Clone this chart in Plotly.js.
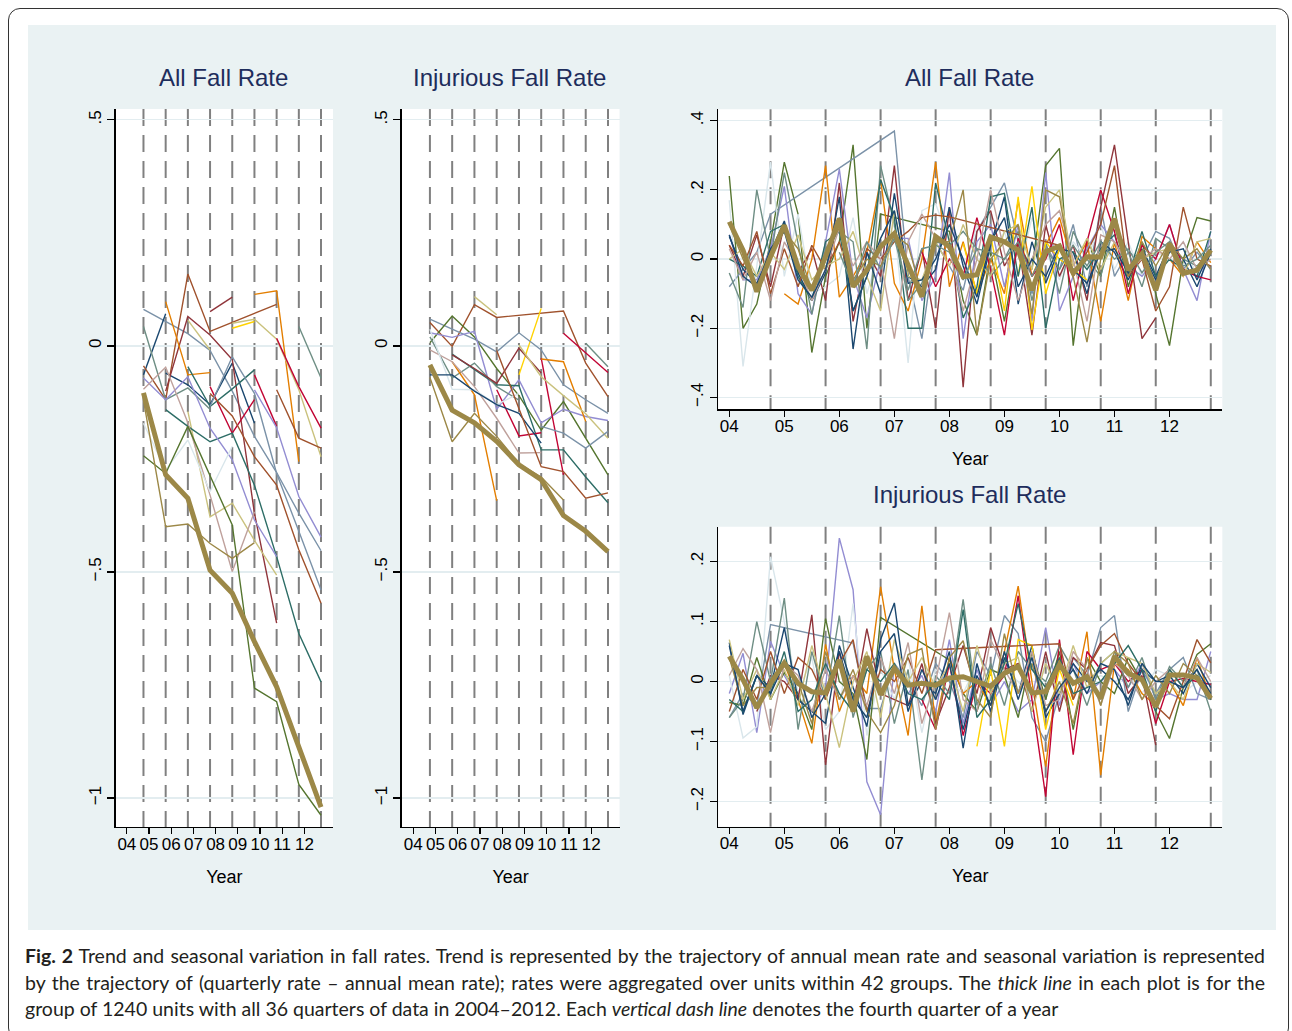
<!DOCTYPE html>
<html>
<head>
<meta charset="utf-8">
<script src="https://cdn.plot.ly/plotly-3.0.1.min.js"></script>
<style>
  html, body { margin: 0; padding: 0; background: #ffffff; }
  #frame { position: absolute; left: 8px; top: 8px; width: 1281px; height: 1032px; border: 1.5px solid #333; border-radius: 12px; box-sizing: border-box; }
  #chart { position: absolute; left: 28px; top: 25px; width: 1248px; height: 905px; }
  #caption { position: absolute; left: 25px; top: 943px; width: 1240px; font-family: Lato, "Liberation Sans Narrow", sans-serif; font-size: 19.5px; line-height: 26.5px; color: #231f20; }
  .j { text-align: justify; text-align-last: justify; white-space: nowrap; }
  .l { white-space: nowrap; }
</style>
</head>
<body>
<div id="frame"></div>
<div id="chart"></div>
<div id="caption">
  <div class="j"><b>Fig. 2</b> Trend and seasonal variation in fall rates. Trend is represented by the trajectory of annual mean rate and seasonal variation is represented</div>
  <div class="j">by the trajectory of (quarterly rate – annual mean rate); rates were aggregated over units within 42 groups. The <i>thick line</i> in each plot is for the</div>
  <div class="l">group of 1240 units with all 36 quarters of data in 2004–2012. Each <i>vertical dash line</i> denotes the fourth quarter of a year</div>
</div>
<script>
// ---------- axes / categories ----------
const yearsQ4 = [2004.75, 2005.75, 2006.75, 2007.75, 2008.75, 2009.75, 2010.75, 2011.75, 2012.75];
const quarters = [2004, 2004.25, 2004.5, 2004.75, 2005, 2005.25, 2005.5, 2005.75, 2006, 2006.25, 2006.5, 2006.75,
  2007, 2007.25, 2007.5, 2007.75, 2008, 2008.25, 2008.5, 2008.75, 2009, 2009.25, 2009.5, 2009.75,
  2010, 2010.25, 2010.5, 2010.75, 2011, 2011.25, 2011.5, 2011.75, 2012, 2012.25, 2012.5, 2012.75];
const dashYears = [2004.75, 2005.75, 2006.75, 2007.75, 2008.75, 2009.75, 2010.75, 2011.75, 2012.75];
const yearTickVals = [2004, 2005, 2006, 2007, 2008, 2009, 2010, 2011, 2012];
const yearTickText = ['04', '05', '06', '07', '08', '09', '10', '11', '12'];
const trendTickVals = [-1, -0.5, 0, 0.5];
const trendTickText = ['\u22121', '\u2212.5', '0', '.5'];
const allSeasTickVals = [-0.4, -0.2, 0, 0.2, 0.4];
const allSeasTickText = ['\u2212.4', '\u2212.2', '0', '.2', '.4'];
const injSeasTickVals = [-0.2, -0.1, 0, 0.1, 0.2];
const injSeasTickText = ['\u2212.2', '\u2212.1', '0', '.1', '.2'];
const panelTitles = ['All Fall Rate', 'Injurious Fall Rate', 'All Fall Rate', 'Injurious Fall Rate'];
const xTitle = 'Year';

// ---------- colours (Stata s2color) ----------
const cNavy = '#1a476f', cMaroon = '#90353b', cForest = '#55752f', cOrange = '#e37e00', cTeal = '#6e8e84',
      cCran = '#c10534', cLav = '#938dd2', cKhaki = '#cac27e', cSienna = '#a0522d', cEmid = '#7b92a8',
      cEmer = '#2d6d66', cBrown = '#9c8847', cErose = '#bfa19c', cGold = '#ffd200', cBgray = '#d9e6eb';

// ---------- All Fall Rate: trend (annual mean, at Q4) ----------
const aT01 = [0.081, 0.054, 0.027, -0.010, -0.10, -0.20, -0.28, -0.37, -0.453];
const aT02 = [-0.064, 0.071, null, null, null, null, null, null, null];
const aT03 = [null, -0.060, -0.086, -0.13, -0.038, -0.171, null, null, null];
const aT04 = [-0.044, -0.119, 0.159, 0.032, null, null, 0.092, null, null];
const aT05 = [null, null, null, 0.076, 0.108, null, null, null, null];
const aT06 = [null, -0.10, 0.065, 0.024, -0.03, -0.37, -0.613, null, null];
const aT07 = [null, 0.098, -0.064, -0.059, null, null, null, null, null];
const aT08 = [null, null, null, null, null, 0.114, 0.122, -0.256, null];
const aT09 = [null, null, 0.057, -0.009, null, null, null, null, null];
const aT10 = [null, null, null, null, 0.05, 0.059, 0.015, -0.097, -0.245];
const aT11 = [null, null, -0.145, -0.378, -0.348, -0.43, -0.507, null, null];
const aT12 = [null, null, null, null, 0.039, 0.054, null, null, null];
const aT13 = [null, null, null, -0.09, -0.193, -0.119, null, null, null];
const aT14 = [null, null, null, null, null, -0.064, -0.178, null, null];
const aT15 = [null, null, null, null, null, null, 0.017, -0.09, -0.182];
const aT16 = [0.043, -0.119, -0.093, -0.14, null, null, null, null, null];
const aT17 = [null, null, null, null, null, null, null, 0.043, -0.071];
const aT18 = [null, -0.141, -0.178, -0.212, -0.193, -0.308, -0.466, -0.636, -0.743];
const aT19 = [null, null, -0.046, -0.134, -0.095, -0.053, null, null, null];
const aT20 = [-0.071, -0.119, -0.068, -0.182, -0.252, -0.385, -0.466, null, null];
const aT21 = [null, null, null, null, null, -0.097, -0.181, -0.333, -0.423];
const aT22 = [-0.096, -0.047, -0.17, -0.33, -0.499, -0.367, null, null, null];
const aT23 = [-0.171, -0.275, -0.208, -0.322, -0.222, null, null, null, null];
const aT24 = [-0.243, -0.282, -0.178, -0.289, -0.396, -0.757, -0.787, -0.97, -1.038];
const aT25 = [-0.12, -0.40, -0.394, -0.437, -0.47, -0.435, null, null, null];
const aT26 = [null, null, null, null, null, null, -0.097, -0.204, -0.226];
const aT27 = [null, null, null, -0.105, -0.155, -0.245, -0.308, -0.451, -0.569];
const aT28 = [null, null, null, -0.134, -0.024, -0.105, -0.282, -0.41, -0.54];
const aThick = [-0.104, -0.285, -0.337, -0.496, -0.547, -0.654, -0.754, -0.886, -1.02];
const allTrendSeries = [aT01, aT02, aT03, aT04, aT05, aT06, aT07, aT08, aT09, aT10, aT11, aT12, aT13, aT14,
  aT15, aT16, aT17, aT18, aT19, aT20, aT21, aT22, aT23, aT24, aT25, aT26, aT27, aT28];
const allTrendColors = [cEmid, cNavy, cNavy, cSienna, cMaroon, cMaroon, cOrange, cOrange, cKhaki, cKhaki, cKhaki,
  cGold, cCran, cCran, cCran, cTeal, cTeal, cEmer, cEmer, cLav, cLav, cErose, cBgray, cForest, cBrown, cSienna, cSienna, cEmid];

// ---------- Injurious Fall Rate: trend ----------
const iT01 = [0.052, -0.001, 0.091, 0.063, null, null, 0.077, -0.038, -0.112];
const iT02 = [null, null, 0.109, 0.069, null, null, null, null, null];
const iT03 = [null, null, null, null, -0.064, 0.083, null, null, null];
const iT04 = [0.059, 0.037, 0.015, -0.013, 0.029, -0.009, -0.086, -0.119, -0.149];
const iT05 = [0.007, 0.066, 0.02, -0.05, -0.11, -0.186, -0.123, -0.205, -0.285];
const iT06 = [0.029, 0.019, 0.032, -0.14, -0.075, -0.17, -0.14, -0.156, -0.165];
const iT07 = [null, -0.018, -0.053, -0.086, -0.088, -0.23, -0.23, -0.29, -0.347];
const iT08 = [0.02, -0.071, -0.038, -0.09, -0.12, null, null, null, null];
const iT09 = [null, null, null, null, null, null, null, 0.006, -0.046];
const iT10 = [null, null, null, null, null, null, 0.028, -0.015, -0.059];
const iT11 = [null, null, null, -0.097, -0.199, -0.192, null, null, null];
const iT12 = [null, null, null, null, null, -0.027, -0.285, null, null];
const iT13 = [null, -0.035, -0.108, -0.342, null, null, null, null, null];
const iT14 = [null, null, null, null, null, -0.029, -0.035, -0.167, null];
const iT15 = [null, -0.02, -0.05, -0.083, -0.005, -0.06, null, null, null];
const iT16 = [-0.009, -0.035, -0.09, -0.16, -0.237, -0.236, null, null, null];
const iT17 = [0.037, -0.096, -0.097, -0.13, -0.105, null, null, null, null];
const iT18 = [-0.064, -0.064, -0.1, -0.13, -0.149, -0.215, null, null, null];
const iT19 = [-0.07, -0.212, -0.149, -0.2, -0.26, -0.29, -0.341, null, null];
const iT20 = [null, null, null, null, 0.002, -0.068, -0.11, -0.15, -0.204];
const iT21 = [null, null, null, -0.01, -0.14, -0.267, -0.278, -0.337, -0.325];
const iT22 = [null, null, null, null, null, -0.178, -0.193, -0.226, -0.189];
const iThick = [-0.042, -0.142, -0.17, -0.211, -0.263, -0.296, -0.375, -0.41, -0.455];
const injTrendSeries = [iT01, iT02, iT03, iT04, iT05, iT06, iT07, iT08, iT09, iT10, iT11, iT12, iT13, iT14,
  iT15, iT16, iT17, iT18, iT19, iT20, iT21, iT22];
const injTrendColors = [cSienna, cKhaki, cGold, cEmid, cForest, cLav, cEmer, cTeal, cTeal, cCran, cCran, cCran,
  cOrange, cOrange, cMaroon, cErose, cBgray, cNavy, cBrown, cKhaki, cSienna, cEmid];

// ---------- All Fall Rate: seasonal (quarterly - annual mean) ----------
const sT01 = [0.24, -0.20, -0.13, 0.05, 0.28, 0.13, -0.27, -0.05, 0.05, 0.33, -0.20, 0.13, null, null, null, null,
  0.08, -0.12, -0.22, 0.02, -0.18, 0.05, -0.03, 0.27, 0.32, -0.25, 0.06, -0.05, 0.15, -0.08, 0.05, -0.10, -0.25, 0.0, 0.12, 0.11];
const sT02 = [-0.08, -0.03, 0.02, 0.13, null, null, null, null, null, null, null, null, 0.37, -0.05, -0.23, 0.05,
  -0.02, -0.09, 0.08, 0.15, 0.22, 0.05, -0.10, 0.04, -0.03, 0.10, -0.08, 0.15, -0.05, 0.02, 0.0, 0.08, 0.06, -0.03, 0.02, -0.03];
const sT03 = [0.17, -0.31, -0.02, 0.28, -0.05, 0.13, -0.10, -0.08, -0.05, 0.12, -0.10, 0.03, 0.10, -0.30, 0.14, 0.16,
  0.05, -0.05, 0.10, 0.0, 0.08, -0.05, 0.12, 0.02, -0.06, 0.05, 0.0, 0.10, -0.03, 0.05, -0.05, 0.02, 0.0, 0.05, -0.05, 0.02];
const sT04 = [0.04, -0.05, 0.07, -0.08, 0.10, -0.04, 0.03, -0.12, 0.22, -0.18, 0.02, -0.05, 0.27, -0.12, 0.03, -0.20,
  0.15, -0.37, 0.08, 0.14, -0.02, 0.05, -0.22, 0.10, -0.05, 0.04, -0.12, 0.15, 0.33, 0.05, -0.23, -0.17, null, null, null, null];
const sT05 = [null, null, null, null, -0.10, -0.13, 0.0, 0.27, -0.11, -0.05, 0.02, 0.23, -0.07, -0.15, 0.0, 0.28,
  -0.08, 0.05, -0.10, 0.0, -0.10, 0.17, -0.05, 0.04, 0.12, -0.02, 0.05, -0.18, 0.05, -0.12, 0.065, 0.03, 0.0, -0.05, 0.05, -0.01];
const sT06 = [0.07, -0.06, -0.06, 0.03, 0.21, -0.10, -0.16, 0.05, 0.26, -0.05, -0.17, 0.0, 0.06, 0.06, -0.12, -0.05,
  0.25, -0.23, 0.05, 0.10, -0.08, 0.10, -0.18, 0.25, -0.15, -0.05, 0.03, 0.10, 0.05, -0.02, -0.05, 0.0, 0.10, -0.03, -0.12, 0.08];
const sT07 = [-0.04, -0.14, 0.20, 0.0, 0.25, 0.05, -0.16, 0.03, 0.08, 0.05, -0.26, 0.27, 0.10, -0.12, -0.07, 0.05,
  0.04, 0.08, 0.03, -0.05, 0.0, 0.08, -0.12, 0.05, -0.10, 0.08, 0.0, -0.05, 0.10, 0.02, -0.08, 0.06, 0.03, 0.0, -0.02, 0.02];
const sT08 = [0.065, -0.03, -0.07, 0.02, 0.11, -0.04, -0.12, -0.04, 0.18, -0.26, 0.02, -0.10, 0.19, -0.05, -0.08, -0.03,
  0.15, -0.02, -0.13, 0.04, 0.18, -0.13, 0.05, -0.07, 0.03, 0.02, -0.10, 0.05, 0.02, -0.06, 0.03, -0.05, 0.04, 0.0, -0.08, 0.02];
const sT09 = [null, null, null, null, null, null, null, null, null, null, null, null, null, null, null, null,
  null, 0.045, -0.10, 0.07, -0.15, 0.18, -0.205, 0.05, 0.0, -0.03, -0.06, null, null, null, null, null, null, null, null, null];
const sT10 = [null, null, null, null, null, null, null, null, null, null, null, null, null, null, null, null,
  null, null, null, null, null, -0.05, 0.21, -0.10, 0.03, null, null, null, null, null, null, null, null, null, null, null];
const sT11 = [0.0, -0.02, -0.05, 0.08, 0.10, -0.05, -0.12, 0.05, 0.08, -0.15, -0.05, 0.23, 0.12, -0.20, -0.20, 0.22,
  0.05, -0.17, -0.08, 0.18, 0.19, -0.05, 0.15, -0.20, 0.0, 0.02, -0.03, 0.03, 0.07, -0.05, 0.08, -0.05, 0.0, -0.03, -0.05, 0.08];
const sT12 = [null, null, null, null, null, null, null, null, null, null, null, null, null, null, 0.02, -0.08,
  0.0, -0.05, 0.12, -0.03, -0.22, 0.06, -0.05, 0.0, 0.10, -0.12, 0.05, 0.20, 0.08, -0.10, 0.04, 0.0, 0.10, -0.03, -0.05, -0.06];
const sT13 = [0.04, -0.02, 0.08, -0.10, 0.03, -0.08, 0.04, -0.03, 0.05, -0.08, 0.03, 0.0, 0.05, 0.08, 0.12, 0.127,
  0.122, null, null, null, null, null, null, null, 0.04, -0.05, 0.02, 0.10, 0.27, -0.05, 0.0, -0.15, -0.08, 0.15, 0.0, -0.02];
const sT14 = [0.0, 0.03, -0.05, 0.02, -0.03, 0.07, -0.06, -0.02, 0.0, 0.08, -0.05, -0.15, 0.14, -0.05, -0.06, 0.05,
  -0.02, 0.10, 0.0, -0.05, 0.08, 0.10, -0.03, 0.15, 0.20, -0.02, 0.06, -0.03, 0.05, -0.02, 0.0, 0.02, 0.03, -0.05, 0.05, 0.06];
const sT15 = [0.03, -0.06, 0.02, -0.12, 0.05, -0.02, -0.12, -0.03, 0.09, -0.02, 0.05, 0.0, -0.23, 0.05, 0.13, 0.06,
  0.03, -0.15, 0.0, 0.20, 0.02, -0.12, 0.0, 0.10, 0.14, 0.0, -0.18, 0.07, 0.05, -0.02, 0.0, 0.03, 0.0, 0.05, -0.03, 0.0];
const sT16 = [0.10, 0.0, -0.09, 0.02, 0.08, 0.03, -0.09, 0.02, 0.09, -0.06, 0.0, -0.02, 0.07, 0.04, -0.10, 0.05,
  0.05, 0.20, -0.22, 0.0, 0.05, 0.10, -0.16, 0.20, 0.18, -0.05, -0.24, 0.0, 0.10, -0.05, 0.05, -0.02, 0.05, 0.0, 0.03, -0.03];
const sT17 = [0.07, -0.05, -0.08, 0.03, 0.08, -0.06, -0.11, -0.03, 0.12, -0.15, -0.05, 0.06, 0.14, -0.07, -0.06, 0.0,
  0.10, 0.0, -0.11, 0.05, 0.12, -0.08, 0.0, -0.05, 0.04, -0.03, -0.07, 0.02, 0.03, -0.04, 0.02, -0.06, 0.02, 0.03, -0.06, 0.03];
const sT18 = [null, null, null, null, null, null, null, null, 0.02, -0.08, 0.05, -0.03, 0.06, -0.09, 0.03, 0.04,
  0.02, -0.06, 0.03, 0.02, 0.0, 0.05, -0.05, 0.03, -0.03, 0.04, -0.02, 0.05, 0.0, 0.03, -0.04, 0.02, 0.05, -0.02, 0.0, 0.04];
const sThick = [0.108, 0.026, -0.094, 0.007, 0.098, -0.022, -0.09, 0.007, 0.117, -0.08, -0.032, 0.036,
  0.074, -0.022, -0.109, 0.065, 0.036, -0.051, -0.045, 0.064, 0.05, 0.026, -0.09, 0.021,
  0.038, -0.041, 0.007, 0.006, 0.117, -0.032, 0.016, -0.09, 0.045, -0.041, -0.032, 0.026];
const allSeasSeries = [sT01, sT02, sT03, sT04, sT05, sT06, sT07, sT08, sT09, sT10, sT11, sT12, sT13, sT14, sT15, sT16, sT17, sT18];
const allSeasColors = [cForest, cEmid, cBgray, cMaroon, cOrange, cLav, cTeal, cNavy, cGold, cGold, cEmer, cCran,
  cSienna, cKhaki, cErose, cBrown, cNavy, cTeal];

// ---------- Injurious Fall Rate: seasonal ----------
const sB01 = [-0.02, 0.047, -0.085, 0.067, 0.01, -0.03, -0.05, -0.01, 0.239, 0.153, -0.167, -0.222, 0.03, -0.02, 0.01, -0.05,
  0.07, -0.07, 0.02, -0.04, 0.0, -0.05, -0.03, 0.09, -0.04, 0.03, -0.02, 0.0, 0.02, -0.01, 0.03, -0.03, -0.02, -0.03, -0.03, 0.05];
const sB02 = [0.01, -0.094, -0.075, 0.208, 0.10, -0.02, 0.04, -0.08, -0.05, 0.13, -0.09, 0.02, -0.03, 0.04, -0.085, 0.02,
  0.0, -0.02, 0.03, -0.04, 0.02, 0.0, -0.03, 0.03, -0.01, 0.02, 0.0, 0.01, 0.0, 0.01, -0.02, 0.02, 0.01, -0.02, 0.0, 0.01];
const sB03 = [-0.06, -0.02, -0.04, 0.095, null, null, null, null, null, 0.064, -0.045, -0.045, 0.03, 0.0, -0.04, 0.03,
  0.0, -0.06, 0.05, 0.01, 0.11, 0.08, -0.06, -0.10, -0.02, 0.04, 0.01, 0.09, 0.11, -0.05, 0.02, -0.02, 0.02, 0.04, -0.02, -0.03];
const sB04 = [-0.035, -0.04, 0.04, -0.03, 0.015, -0.02, -0.08, 0.105, 0.0, -0.02, -0.13, 0.107, null, null, null, null,
  0.036, -0.02, -0.05, 0.02, 0.01, -0.06, 0.05, -0.03, 0.05, -0.08, 0.04, 0.0, -0.02, 0.04, 0.0, -0.05, -0.095, -0.01, 0.045, 0.063];
const sB05 = [null, null, null, null, 0.03, -0.03, -0.103, 0.062, -0.05, 0.01, -0.02, 0.158, 0.02, -0.09, 0.126, -0.07,
  0.04, -0.02, 0.0, -0.04, 0.05, 0.159, 0.0, -0.142, 0.04, -0.03, 0.083, -0.156, 0.03, 0.02, -0.02, -0.04, 0.0, -0.04, 0.04, -0.03];
const sB06 = [null, null, null, null, null, null, null, null, null, null, null, null, null, null, -0.03, -0.08,
  0.03, -0.09, 0.0, -0.02, 0.01, 0.143, -0.03, -0.192, 0.07, -0.122, 0.05, 0.02, 0.03, 0.0, 0.02, -0.07, 0.0, 0.005, 0.0, -0.005];
const sB07 = [null, null, -0.05, 0.01, 0.0, -0.03, 0.111, -0.139, 0.05, -0.04, 0.088, -0.02, -0.03, -0.04, 0.03, -0.07,
  -0.01, 0.06, -0.02, 0.09, 0.02, 0.03, -0.05, 0.05, -0.05, 0.04, 0.02, 0.065, 0.06, -0.02, 0.01, -0.106, null, null, null, null];
const sB08 = [-0.06, -0.03, 0.10, 0.0, 0.139, -0.08, 0.05, -0.03, 0.11, -0.06, 0.02, 0.05, -0.07, 0.02, -0.164, 0.01,
  -0.02, 0.137, -0.04, 0.03, -0.04, 0.05, 0.02, 0.0, 0.06, 0.02, -0.04, 0.03, 0.05, -0.01, 0.04, -0.03, 0.025, 0.0, 0.02, -0.05];
const sB09 = [0.065, -0.055, 0.01, -0.01, 0.09, -0.03, -0.05, -0.07, 0.06, -0.01, -0.075, 0.07, 0.131, -0.04, 0.0, -0.02,
  0.05, -0.111, 0.03, -0.05, 0.04, -0.02, 0.06, -0.06, -0.02, 0.03, 0.0, 0.02, 0.0, -0.03, 0.02, 0.0, 0.01, -0.02, 0.03, -0.01];
const sB10 = [null, null, null, null, null, null, null, null, null, null, null, null, null, null, null, null,
  null, null, -0.108, 0.02, -0.108, 0.07, 0.06, -0.08, 0.02, -0.04, null, null, null, null, null, null, null, null, null, null];
const sB11 = [-0.05, 0.02, -0.03, 0.05, -0.02, 0.04, 0.02, -0.03, 0.03, 0.07, -0.05, 0.02, 0.0, 0.04, -0.02, 0.053,
  null, null, null, null, null, null, null, null, 0.063, -0.03, 0.02, 0.06, 0.08, 0.03, 0.0, -0.04, -0.062, 0.0, 0.07, 0.031];
const sB12 = [0.07, -0.03, 0.02, -0.03, 0.02, -0.04, 0.06, -0.02, -0.11, 0.0, 0.05, -0.06, 0.07, 0.0, 0.04, -0.01,
  0.03, -0.05, 0.06, -0.02, 0.03, 0.04, -0.05, 0.03, -0.02, 0.06, -0.01, 0.03, 0.05, 0.04, 0.03, -0.02, 0.0, -0.03, 0.03, 0.015];
const sB13 = [0.01, 0.055, 0.02, -0.085, 0.03, 0.01, -0.05, 0.02, -0.03, 0.01, -0.04, 0.04, -0.02, 0.065, -0.07, 0.0,
  0.115, -0.03, -0.05, 0.07, 0.02, -0.02, 0.05, -0.04, -0.03, 0.05, 0.02, -0.04, 0.03, 0.01, -0.03, 0.0, 0.02, -0.01, 0.04, 0.0];
const sB14 = [0.04, -0.04, -0.01, -0.01, 0.03, 0.0, -0.07, 0.05, -0.03, 0.02, -0.05, -0.085, -0.04, 0.045, 0.055, -0.08,
  0.04, 0.068, -0.03, -0.06, 0.08, -0.02, 0.03, -0.05, 0.0, -0.07, 0.04, -0.04, 0.05, 0.03, -0.03, 0.01, -0.02, 0.03, 0.01, -0.02];
const sB15 = [-0.03, -0.05, 0.01, -0.02, 0.05, -0.05, -0.03, 0.03, -0.02, -0.05, 0.02, 0.0, 0.03, -0.02, -0.03, 0.0,
  -0.03, 0.12, -0.06, -0.03, 0.03, 0.13, 0.02, -0.01, 0.04, -0.02, -0.01, 0.0, 0.03, 0.06, 0.02, -0.05, 0.02, -0.01, 0.01, -0.03];
const sB16 = [0.06, -0.05, 0.01, -0.02, 0.03, 0.02, -0.06, -0.02, 0.05, -0.03, -0.06, 0.05, 0.08, -0.05, 0.02, -0.03,
  0.03, -0.08, 0.01, -0.04, 0.05, -0.03, 0.04, -0.05, -0.01, 0.02, -0.02, 0.03, 0.02, -0.04, 0.03, 0.0, 0.0, -0.01, 0.02, -0.02];
const bThick = [0.042, 0.003, -0.044, -0.003, 0.031, -0.003, -0.017, -0.019, 0.036, -0.05, 0.042, -0.022,
  0.022, -0.006, -0.003, -0.006, 0.006, 0.008, 0.0, -0.008, 0.014, 0.025, -0.019, -0.017,
  0.028, -0.003, 0.008, -0.028, 0.042, 0.014, 0.003, -0.042, 0.011, 0.011, 0.006, -0.028];
const injSeasSeries = [sB01, sB02, sB03, sB04, sB05, sB06, sB07, sB08, sB09, sB10, sB11, sB12, sB13, sB14, sB15, sB16];
const injSeasColors = [cLav, cBgray, cEmid, cForest, cOrange, cCran, cMaroon, cTeal, cNavy, cGold, cSienna, cKhaki,
  cErose, cBrown, cEmer, cNavy];

// ---------- build traces ----------
const traces = [];
function addPanel(series, colors, thick, xs, xa, ya) {
  series.forEach((s, i) => traces.push({
    type: 'scatter', mode: 'lines', x: xs, y: s, xaxis: xa, yaxis: ya, connectgaps: true,
    line: { color: colors[i], width: 1.4 }, hoverinfo: 'skip', showlegend: false
  }));
  traces.push({
    type: 'scatter', mode: 'lines', x: xs, y: thick, xaxis: xa, yaxis: ya, connectgaps: true,
    line: { color: cBrown, width: 5 }, hoverinfo: 'skip', showlegend: false
  });
}
addPanel(allTrendSeries, allTrendColors, aThick, yearsQ4, 'x', 'y');
addPanel(injTrendSeries, injTrendColors, iThick, yearsQ4, 'x2', 'y2');
addPanel(allSeasSeries, allSeasColors, sThick, quarters, 'x3', 'y3');
addPanel(injSeasSeries, injSeasColors, bThick, quarters, 'x4', 'y4');

// ---------- layout ----------
const FONT = 'Liberation Sans, Arial, sans-serif';
function xAx(domain, range, anchor) {
  return {
    domain: domain, range: range, anchor: anchor, tickmode: 'array', tickvals: yearTickVals, ticktext: yearTickText,
    ticks: 'outside', ticklen: 6, tickwidth: 1.2, tickcolor: '#000', showline: true, linecolor: '#000', linewidth: 1.3,
    ticklabelstandoff: -5,
    showgrid: false, zeroline: false, tickfont: { family: FONT, size: 17, color: '#000' },
    title: { text: xTitle, font: { family: FONT, size: 18, color: '#000' }, standoff: 17 }, fixedrange: true
  };
}
function yAx(domain, range, anchor, vals, text) {
  return {
    domain: domain, range: range, anchor: anchor, tickmode: 'array', tickvals: vals, ticktext: text, tickangle: -90,
    ticks: 'outside', ticklen: 7, tickwidth: 1.2, tickcolor: '#000', showline: true, linecolor: '#000', linewidth: 1.3,
    showgrid: true, gridcolor: '#e3edf0', gridwidth: 1.3, zeroline: false,
    tickfont: { family: FONT, size: 17, color: '#000' }, fixedrange: true
  };
}
const dTrendY = [0.1138, 0.9072];
const layout = {
  width: 1248, height: 905, margin: { l: 0, r: 0, t: 0, b: 0 },
  paper_bgcolor: '#eaf2f3', plot_bgcolor: '#ffffff', showlegend: false, hovermode: false,
  font: { family: FONT, color: '#000' },
  xaxis: xAx([0.0703, 0.2444], [2003.5, 2013.29], 'y'),
  yaxis: yAx(dTrendY, [-1.064, 0.524], 'x', trendTickVals, trendTickText),
  xaxis2: xAx([0.2994, 0.4740], [2003.48, 2013.27], 'y2'),
  yaxis2: yAx(dTrendY, [-1.064, 0.524], 'x2', trendTickVals, trendTickText),
  xaxis3: xAx([0.5531, 0.9570], [2003.8, 2012.96], 'y3'),
  yaxis3: yAx([0.5754, 0.9069], [-0.434, 0.433], 'x3', allSeasTickVals, allSeasTickText),
  xaxis4: xAx([0.5531, 0.9570], [2003.8, 2012.96], 'y4'),
  yaxis4: yAx([0.1141, 0.4456], [-0.242, 0.258], 'x4', injSeasTickVals, injSeasTickText),
  shapes: [],
  annotations: []
};
['', '2', '3', '4'].forEach(k => {
  dashYears.forEach(yr => layout.shapes.push({
    type: 'line', xref: 'x' + k, yref: 'y' + k + ' domain', x0: yr, x1: yr, y0: 1, y1: 0, layer: 'below',
    line: { color: '#808080', width: 2, dash: '17px,9px' }
  }));
});
const titlePos = [[0.157, 0.9425], [0.3862, 0.9425], [0.7548, 0.9425], [0.7548, 0.4807]];
titlePos.forEach((p, i) => layout.annotations.push({
  text: panelTitles[i], xref: 'paper', yref: 'paper', x: p[0], y: p[1], xanchor: 'center', yanchor: 'middle',
  showarrow: false, font: { family: FONT, size: 24, color: '#1e2d5c' }
}));

Plotly.newPlot('chart', traces, layout, { staticPlot: true, displayModeBar: false });
</script>
</body>
</html>
